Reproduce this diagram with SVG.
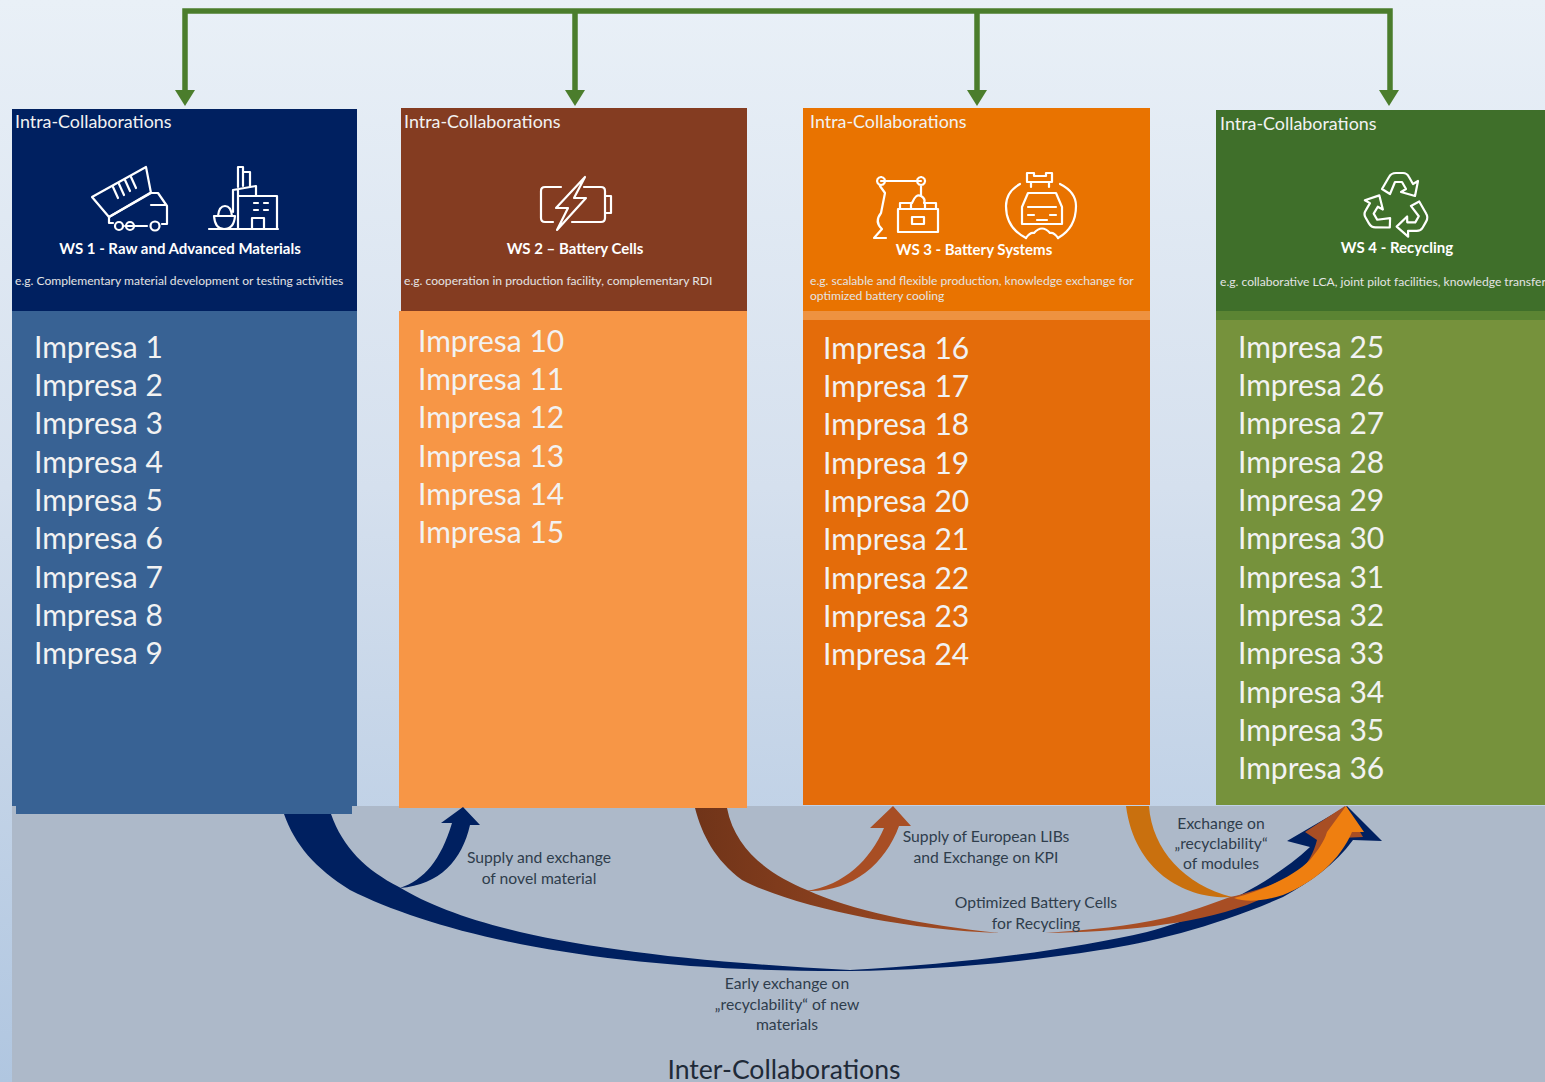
<svg xmlns="http://www.w3.org/2000/svg" width="1545" height="1082" viewBox="0 0 1545 1082">
<style>
text{font-family:Lato,"Open Sans","Liberation Sans",sans-serif}
.intra{font-size:17.9px;fill:#f2f2f2}
.ws{font-size:15px;font-weight:700;fill:#fff;text-anchor:middle}
.desc{font-size:12.1px;fill:#e4e4e4}
.co{font-size:30px;fill:#f2f2f2}
.lab{font-size:15.7px;fill:#2f3d4c;text-anchor:middle}
.ic{fill:none;stroke:#fff;stroke-width:2.2;stroke-linejoin:round;stroke-linecap:round}
.g{fill:none;stroke:#4b7d2c;stroke-width:5.5}
</style>
<defs>
<linearGradient id="bg" x1="0" y1="0" x2="0" y2="1"><stop offset="0" stop-color="#e9f0f7"/><stop offset="0.45" stop-color="#d5e0ee"/><stop offset="1" stop-color="#b0c6e0"/></linearGradient>
<linearGradient id="br" gradientUnits="userSpaceOnUse" x1="695" y1="0" x2="1000" y2="0"><stop offset="0" stop-color="#703419"/><stop offset="1" stop-color="#a84e24"/></linearGradient>
<polygon id="gh" points="-10,-15 10,-15 0,1" fill="#4b7d2c"/>
<path id="rec" d="M-15 -17L-8 -29Q-6 -33 -1 -33H6Q10 -33 12 -29L16 -22L21 -25L18 -10L4 -14L9 -17L5 -24H-2L-7 -12Z"/>
</defs>
<rect width="1545" height="1082" fill="url(#bg)"/>
<rect x="12" y="806" width="1533" height="276" fill="#adb9c9"/>

<g id="connectors-top">
<path class="g" d="M185 92V11H1390V92M575 11V92M977 11V92"/>
<use href="#gh" x="185" y="105"/><use href="#gh" x="575" y="105"/><use href="#gh" x="977" y="105"/><use href="#gh" x="1389" y="105"/>
</g>

<g id="ws1">
<rect x="12" y="109" width="345" height="203" fill="#002060"/>
<rect x="12" y="311" width="345" height="495" fill="#386294"/>
<rect x="16" y="806" width="336" height="8" fill="#386294"/>
<text class="intra" x="15" y="128">Intra-Collaborations</text>
<g class="ic">
<path d="M92 197L146 167L151 193L109 217Z"/><path d="M118 198L113 187M124 195L119 184M130 191L125 180M136 188L131 177"/>
<path d="M109 217V223H113M125 226H147M109 217L150 193H158L167 206V224H162"/>
<path d="M151 205H165"/>
<circle cx="119" cy="226" r="4"/><circle cx="130" cy="226" r="4"/><circle cx="155" cy="226" r="4.5"/>
</g>
<g class="ic">
<path d="M209 229H278M238 229V190M238 196H277V229M233 212V190L256 186V196M238 187V167H243V186M243 172H250V186"/>
<path d="M214 216H235Q234 229 224 229Q215 229 214 216ZM218 216Q219 206 225 206Q231 206 232 216"/>
<path d="M252 229V218H264V229M254 203H258M264 203H268M254 210H258M264 210H268"/>
</g>
<text class="ws" x="180" y="254">WS 1 - Raw and Advanced Materials</text>
<text class="desc" x="15" y="285">e.g. Complementary material development or testing activities</text>
<g class="co">
<text x="34" y="357.5">Impresa 1</text><text x="34" y="395.9">Impresa 2</text><text x="34" y="434.2">Impresa 3</text><text x="34" y="472.5">Impresa 4</text><text x="34" y="510.9">Impresa 5</text><text x="34" y="549.2">Impresa 6</text><text x="34" y="587.5">Impresa 7</text><text x="34" y="625.9">Impresa 8</text><text x="34" y="664.2">Impresa 9</text>
</g>
</g>

<g id="ws2">
<rect x="401" y="108" width="346" height="204" fill="#843c21"/>
<rect x="399" y="311" width="348" height="497" fill="#f79646"/>
<text class="intra" x="404" y="128">Intra-Collaborations</text>
<g class="ic">
<path d="M561 187H545Q541 187 541 191V218Q541 222 545 222H553M584 187H601Q605 187 605 191V218Q605 222 601 222H572M605 196H611V213H605"/>
<path d="M585 177L556 208H568L557 230L586 198H574Z"/>
</g>
<text class="ws" x="575" y="254">WS 2 – Battery Cells</text>
<text class="desc" x="404" y="285">e.g. cooperation in production facility, complementary RDI</text>
<g class="co">
<text x="418" y="351.5">Impresa 10</text><text x="418" y="389.9">Impresa 11</text><text x="418" y="428.2">Impresa 12</text><text x="418" y="466.5">Impresa 13</text><text x="418" y="504.9">Impresa 14</text><text x="418" y="543.2">Impresa 15</text>
</g>
</g>

<g id="ws3">
<rect x="803" y="108" width="347" height="204" fill="#e97300"/>
<rect x="803" y="311" width="347" height="9" fill="#ee9240"/>
<rect x="803" y="320" width="347" height="485" fill="#e46c0a"/>
<text class="intra" x="810" y="128">Intra-Collaborations</text>
<g class="ic">
<path d="M881 181H921M881 177a4 4 0 1 0 .1 0M921 177a4 4 0 1 0 .1 0M880 186L885 193L881 213Q874 222 882 229L874 238H886M921 185V196"/>
<path d="M898 209H938V232H898ZM900 209V203H911V209M925 209V203H936V209M912 203Q916 193 921 196Q926 199 924 203M912 217H924V224H912Z"/>
</g>
<g class="ic">
<path d="M1020 184Q1006 192 1006 206Q1006 228 1026 238M1060 184Q1076 192 1076 206Q1076 228 1058 238"/>
<path d="M1027 182V173H1034V176H1046V173H1052V182ZM1031 182V187M1049 182V187"/>
<path d="M1022 207L1028 193H1056L1062 207V224H1022ZM1028 207H1056M1028 215H1034M1050 215H1056M1037 220H1047"/>
<path d="M1026 238Q1030 232 1034 233Q1042 224 1050 233Q1054 232 1058 238"/>
</g>
<text class="ws" x="974" y="255">WS 3 - Battery Systems</text>
<text class="desc" x="810" y="285">e.g. scalable and flexible production, knowledge exchange for</text>
<text class="desc" x="810" y="300">optimized battery cooling</text>
<g class="co">
<text x="823" y="358.5">Impresa 16</text><text x="823" y="396.9">Impresa 17</text><text x="823" y="435.2">Impresa 18</text><text x="823" y="473.5">Impresa 19</text><text x="823" y="511.9">Impresa 20</text><text x="823" y="550.2">Impresa 21</text><text x="823" y="588.5">Impresa 22</text><text x="823" y="626.9">Impresa 23</text><text x="823" y="665.2">Impresa 24</text>
</g>
</g>

<g id="ws4">
<rect x="1216" y="110" width="329" height="202" fill="#3f6f2a"/>
<rect x="1216" y="311" width="329" height="9" fill="#5b8433"/>
<rect x="1216" y="320" width="329" height="485" fill="#76923c"/>
<text class="intra" x="1220" y="130">Intra-Collaborations</text>
<g class="ic" transform="translate(1397 206)">
<use href="#rec"/><use href="#rec" transform="rotate(120)"/><use href="#rec" transform="rotate(240)"/>
</g>
<text class="ws" x="1397" y="253">WS 4 - Recycling</text>
<text class="desc" x="1220" y="286">e.g. collaborative LCA, joint pilot facilities, knowledge transfer</text>
<g class="co">
<text x="1238" y="357.5">Impresa 25</text><text x="1238" y="395.9">Impresa 26</text><text x="1238" y="434.2">Impresa 27</text><text x="1238" y="472.5">Impresa 28</text><text x="1238" y="510.9">Impresa 29</text><text x="1238" y="549.2">Impresa 30</text><text x="1238" y="587.5">Impresa 31</text><text x="1238" y="625.9">Impresa 32</text><text x="1238" y="664.2">Impresa 33</text><text x="1238" y="702.5">Impresa 34</text><text x="1238" y="740.9">Impresa 35</text><text x="1238" y="779.2">Impresa 36</text>
</g>
</g>

<g id="connectors-inter">
<path fill="#002060" d="M284 814H331C343 848 366 870 399 887C470 930 600 957 850 970C960 964 1070 950 1147 932C1200 918 1270 885 1310 847L1287 841L1347 806L1382 841L1353 840C1335 865 1310 882 1283 897C1220 925 1150 943 1100 950C1020 963 930 970 850 971C600 972 440 935 350 890C315 868 295 845 284 814Z"/>
<path fill="#002060" d="M400 888C424 880 441 860 452 823H441L463 807L480 825H470C462 860 440 885 400 888Z"/>
<path fill="url(#br)" d="M695 808H727C735 850 770 875 807 890C850 910 920 925 1000 933C900 930 790 905 742 880C715 860 702 835 695 808Z"/>
<path fill="#a84e24" d="M1045 933C1090 930 1130 926 1165 918C1190 912 1210 904 1230 897C1260 890 1280 882 1297 873C1308 865 1314 852 1317 840L1305 832L1345 806L1363 837L1340 838C1320 865 1290 888 1247 905C1190 925 1120 932 1045 933Z"/>
<path fill="#a84e24" d="M806 891C845 885 870 860 884 828H870L893 806L911 826H899C885 865 850 893 806 891Z"/>
<path fill="#c9700e" d="M1126 806H1149C1152 850 1185 885 1232 897C1190 900 1135 875 1126 806Z"/>
<path fill="#ef7f10" d="M1234 898C1265 890 1295 875 1310 860C1318 850 1324 842 1327 832L1346 806L1364 832H1352C1340 860 1315 882 1283 895C1260 902 1245 902 1234 898Z"/>
</g>

<g id="labels">
<text class="lab" x="539" y="863">Supply and exchange</text><text class="lab" x="539" y="884">of novel material</text>
<text class="lab" x="986" y="842">Supply of European LIBs</text><text class="lab" x="986" y="863">and Exchange on KPI</text>
<text class="lab" x="1221" y="829">Exchange on</text><text class="lab" x="1221" y="849">„recyclability“</text><text class="lab" x="1221" y="869">of modules</text>
<text class="lab" x="1036" y="908">Optimized Battery Cells</text><text class="lab" x="1036" y="929">for Recycling</text>
<text class="lab" x="787" y="989">Early exchange on</text><text class="lab" x="787" y="1010">„recyclability“ of new</text><text class="lab" x="787" y="1030">materials</text>
<text x="784" y="1079" text-anchor="middle" font-size="26.6" fill="#1f2a38">Inter-Collaborations</text>
</g>
</svg>
